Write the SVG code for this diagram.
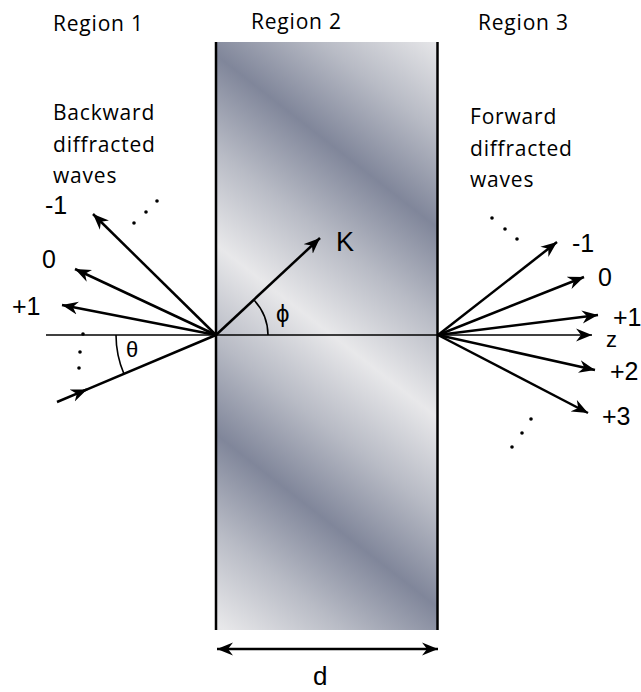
<svg xmlns="http://www.w3.org/2000/svg" width="641" height="692" viewBox="0 0 641 692">
<style>
.lbl{font-family:"Open Sans","Liberation Sans",sans-serif;font-size:21px;letter-spacing:0.8px;fill:#000}
.sym{font-family:"Liberation Sans","DejaVu Sans",sans-serif;font-size:25px;fill:#000}
.ar{stroke:#000;stroke-width:2.5;fill:none;marker-end:url(#ah)}
.thin{stroke:#000;stroke-width:1.6;fill:none}
.dot{fill:#000}
</style>
<defs>
<linearGradient id="grat" gradientUnits="userSpaceOnUse" x1="216" y1="55" x2="124" y2="173" spreadMethod="reflect">
<stop offset="0" stop-color="#80869a"/>
<stop offset="0.5" stop-color="#b8bbc5"/>
<stop offset="1" stop-color="#e8e8ea"/>
</linearGradient>
<marker id="ah" viewBox="-16 -7 17 14" refX="0" refY="0" markerWidth="17" markerHeight="14" markerUnits="userSpaceOnUse" orient="auto">
<path d="M0,0 L-16,-6.5 L-11,0 L-16,6.5 Z" fill="#000"/>
</marker>
<marker id="ahs" viewBox="-16 -7 17 14" refX="0" refY="0" markerWidth="17" markerHeight="14" markerUnits="userSpaceOnUse" orient="auto-start-reverse">
<path d="M0,0 L-16,-6.5 L-11,0 L-16,6.5 Z" fill="#000"/>
</marker>
</defs>

<g id="region-labels">
<text class="lbl" x="53" y="31">Region 1</text>
<text class="lbl" x="251" y="29">Region 2</text>
<text class="lbl" x="478" y="30">Region 3</text>
</g>

<g id="backward-label">
<text class="lbl" x="53" y="120">Backward</text>
<text class="lbl" x="53" y="152">diffracted</text>
<text class="lbl" x="53" y="183">waves</text>
</g>
<g id="forward-label">
<text class="lbl" x="470" y="124">Forward</text>
<text class="lbl" x="470" y="156">diffracted</text>
<text class="lbl" x="470" y="187">waves</text>
</g>

<g id="grating">
<rect x="216" y="42" width="222" height="588" fill="url(#grat)"/>
<line x1="216" y1="42" x2="216" y2="630" stroke="#000" stroke-width="2.5"/>
<line x1="437.5" y1="42" x2="437.5" y2="630" stroke="#000" stroke-width="2.5"/>
</g>

<g id="connectors">
<line class="thin" x1="46" y1="335" x2="438" y2="335"/>
<line class="thin" x1="438" y1="335" x2="592" y2="335" style="marker-end:url(#ah)"/>
<line class="ar" x1="216" y1="335" x2="320" y2="238"/>
<path class="thin" d="M268,335 A52,52 0 0 0 254,300"/>
<line class="ar" x1="216" y1="335" x2="93" y2="214"/>
<line class="ar" x1="216" y1="335" x2="75" y2="269"/>
<line class="ar" x1="216" y1="335" x2="62" y2="305"/>
<line class="ar" x1="57" y1="402" x2="87" y2="389.4"/>
<line stroke="#000" stroke-width="2.5" x1="80" y1="392.3" x2="216" y2="335"/>
<path class="thin" d="M116,335 A100,100 0 0 0 124,374"/>
<line class="ar" x1="438" y1="335" x2="557" y2="242"/>
<line class="ar" x1="438" y1="335" x2="584" y2="277"/>
<line class="ar" x1="438" y1="335" x2="598" y2="315"/>
<line class="ar" x1="438" y1="335" x2="595" y2="370"/>
<line class="ar" x1="438" y1="335" x2="588" y2="413"/>
<line stroke="#000" stroke-width="2.5" x1="217" y1="649" x2="438" y2="649" marker-start="url(#ahs)" marker-end="url(#ah)"/>
</g>

<g id="dots">
<circle class="dot" cx="134" cy="223" r="1.8"/>
<circle class="dot" cx="146" cy="212" r="1.8"/>
<circle class="dot" cx="157" cy="201" r="1.8"/>
<circle class="dot" cx="83" cy="334" r="1.8"/>
<circle class="dot" cx="80" cy="352" r="1.8"/>
<circle class="dot" cx="79" cy="368" r="1.8"/>
<circle class="dot" cx="492" cy="218" r="1.8"/>
<circle class="dot" cx="505" cy="229" r="1.8"/>
<circle class="dot" cx="517" cy="239" r="1.8"/>
<circle class="dot" cx="531" cy="419" r="1.8"/>
<circle class="dot" cx="522" cy="433" r="1.8"/>
<circle class="dot" cx="512" cy="447" r="1.8"/>
</g>

<g id="order-labels">
<text class="sym" x="45" y="214">-1</text>
<text class="sym" x="42" y="268">0</text>
<text class="sym" x="12" y="315">+1</text>
<text class="sym" x="572" y="252">-1</text>
<text class="sym" x="598" y="286">0</text>
<text class="sym" x="613" y="326">+1</text>
<text class="sym" x="606" y="347" style="font-size:22px">z</text>
<text class="sym" x="610" y="380">+2</text>
<text class="sym" x="602" y="425">+3</text>
<text class="sym" x="336" y="251" style="font-size:27px">K</text>
<text class="sym" x="276" y="322" style="font-size:24px">ϕ</text>
<text class="sym" x="126" y="357" style="font-size:22px">θ</text>
<text class="sym" x="313" y="685" style="font-size:26px">d</text>
</g>
</svg>
